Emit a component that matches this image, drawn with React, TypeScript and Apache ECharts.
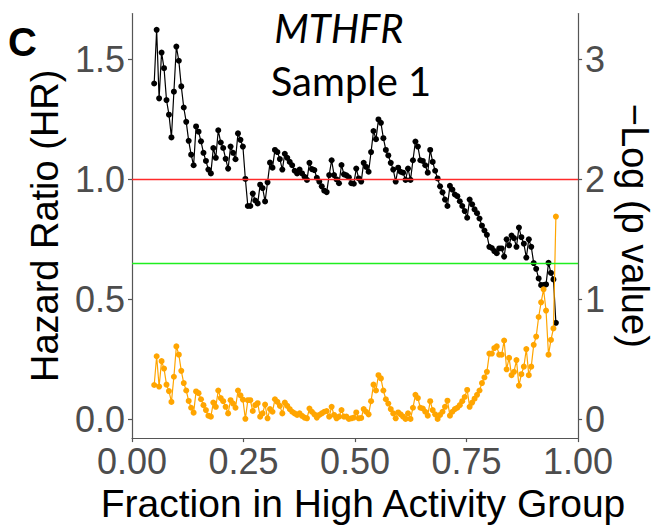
import React, { useEffect, useRef } from "react";
import * as echarts from "echarts";

// Cohort size and the smallest number of samples placed in the high-activity group.
const SAMPLE_COUNT = 181;
const FIRST_HIGH_COUNT = 9;

// Hazard ratio for each successive split (high-activity group size 9 .. 172).
const hazardRatio = [
  1.400, 1.624, 1.338, 1.529, 1.464, 1.331, 1.270, 1.175, 1.366, 1.554,
  1.495, 1.388, 1.300, 1.240, 1.161, 1.103, 1.059, 1.221, 1.199, 1.159,
  1.111, 1.077, 1.041, 1.025, 1.131, 1.090, 1.205, 1.154, 1.131, 1.086,
  1.045, 1.137, 1.111, 1.084, 1.192, 1.165, 1.137, 1.002, 0.889, 0.889,
  0.941, 0.912, 0.900, 0.978, 0.964, 0.908, 0.988, 1.070, 1.049, 1.123,
  1.114, 1.085, 1.041, 1.107, 1.090, 1.073, 1.059, 1.036, 1.025, 1.041,
  1.025, 1.011, 0.998, 1.069, 1.043, 1.039, 1.007, 0.991, 0.971, 0.953,
  0.947, 1.018, 1.080, 1.018, 1.000, 0.984, 1.060, 1.021, 1.017, 1.009,
  0.984, 0.982, 1.045, 1.004,
  0.991, 1.069, 1.052, 1.032, 1.114, 1.202, 1.168, 1.250, 1.236, 1.172,
  1.123, 1.100, 1.069, 1.041, 0.991, 1.049, 1.032, 1.028, 0.998, 1.045,
  0.998, 1.080, 1.158, 1.137, 1.080, 1.077, 1.059, 1.028, 1.123, 1.073,
  1.036, 1.004, 0.971, 0.946, 0.916, 0.889, 0.973, 0.957, 0.937, 0.930,
  0.909, 0.889, 0.868, 0.840,
  0.916, 0.896, 0.875, 0.859, 0.837, 0.807, 0.787, 0.769, 0.719, 0.714,
  0.701, 0.692, 0.712, 0.712, 0.678, 0.750, 0.725, 0.766, 0.755, 0.719,
  0.799, 0.759, 0.732, 0.674, 0.750, 0.719, 0.651, 0.627, 0.587, 0.559,
  0.559, 0.562, 0.652, 0.610, 0.583, 0.402,
];

// -log10(p) of the log-rank test for the same splits.
const negLogP = [
  0.285, 0.525, 0.272, 0.484, 0.422, 0.288, 0.234, 0.144, 0.354, 0.607,
  0.538, 0.403, 0.301, 0.239, 0.152, 0.095, 0.054, 0.231, 0.217, 0.166,
  0.117, 0.076, 0.029, 0.021, 0.138, 0.103, 0.239, 0.176, 0.150, 0.103,
  0.048, 0.158, 0.130, 0.095, 0.239, 0.199, 0.163, 0.003, 0.158, 0.158,
  0.068, 0.117, 0.133, 0.021, 0.048, 0.122, 0.007, 0.084, 0.062, 0.166,
  0.144, 0.111,
  0.048, 0.138, 0.111, 0.084, 0.062, 0.048, 0.035, 0.048, 0.027, 0.013,
  0.007, 0.089, 0.062, 0.040, 0.013, 0.035, 0.048, 0.062, 0.068, 0.021,
  0.103, 0.035, 0.007, 0.021, 0.076, 0.021, 0.021, 0.002, 0.007, 0.013,
  0.056, 0.007, 0.010, 0.084, 0.062, 0.040, 0.150, 0.288, 0.239, 0.367,
  0.340, 0.239, 0.166, 0.130, 0.084, 0.048, 0.007, 0.056, 0.040, 0.021,
  0.002, 0.048, 0.002, 0.095, 0.203, 0.176, 0.095, 0.089, 0.062,
  0.029, 0.150, 0.076, 0.040, 0.002, 0.035, 0.062, 0.103, 0.154, 0.029,
  0.062, 0.084, 0.095, 0.117, 0.150, 0.185, 0.244,
  0.103, 0.138, 0.171, 0.203, 0.239, 0.301, 0.348, 0.395, 0.547, 0.547,
  0.593, 0.607, 0.538, 0.538, 0.656, 0.416, 0.511, 0.367, 0.395, 0.493,
  0.280, 0.375, 0.438, 0.585, 0.367, 0.438, 0.620, 0.689, 0.852, 0.975,
  1.083, 0.906, 0.538, 0.661, 0.757, 1.690,
];

const xTicks = [0, 0.25, 0.5, 0.75, 1];
const hrTicks = [0, 0.5, 1, 1.5];
const pTicks = [0, 1, 2, 3];

const HR_NULL = 1;
const P_THRESHOLD = 0.05;

const GENE = "MTHFR";
const SAMPLE_LABEL = "Sample 1";
const PANEL = "C";

const SANS = "'Liberation Sans', Arial, sans-serif";
const TITLE_FONT = "Lato, 'Open Sans', sans-serif";
const AXIS_GREY = "#555555";
const LABEL_GREY = "#4D4D4D";

const fractionOf = (k: number) => (FIRST_HIGH_COUNT + k) / SAMPLE_COUNT;

export default function App() {
  const ref = useRef<HTMLDivElement>(null);

  useEffect(() => {
    document.body.style.margin = "0";
    if (!ref.current) return;
    const chart = echarts.init(ref.current, undefined, { renderer: "svg" });

    const hrData = hazardRatio.map((v, k) => [fractionOf(k), v]);
    const pData = negLogP.map((v, k) => [fractionOf(k), v]);

    const axisLine = { show: true, onZero: false, lineStyle: { color: AXIS_GREY, width: 1.2 } };
    const tickStyle = { color: AXIS_GREY, width: 1.2 };
    const tickLabel = { fontSize: 36, color: LABEL_GREY, fontFamily: SANS };
    const titleStyle = { fontSize: 38, color: "#000", fontFamily: SANS };

    const refLine = (color: string, yAxisIndex: number, value: number) => ({
      type: "line",
      yAxisIndex,
      data: [],
      z: 1,
      silent: true,
      markLine: {
        silent: true,
        symbol: ["none", "none"],
        label: { show: false },
        lineStyle: { color, width: 1.3, type: "solid" },
        emphasis: { disabled: true },
        data: [{ yAxis: value }],
      },
    });

    chart.setOption({
      animation: false,
      grid: { left: 132, right: 64, top: 13.5, bottom: 81, containLabel: false },
      xAxis: {
        type: "value",
        min: 0,
        max: 1,
        interval: 0.25,
        axisLine,
        axisTick: { show: true, length: 4, lineStyle: tickStyle, customValues: xTicks },
        splitLine: { show: false },
        axisLabel: {
          ...tickLabel,
          margin: 5,
          customValues: xTicks,
          showMinLabel: true,
          showMaxLabel: true,
          hideOverlap: false,
          formatter: (v: number) => v.toFixed(2),
        },
        name: "Fraction in High Activity Group",
        nameLocation: "middle",
        nameGap: 37,
        nameTextStyle: { ...titleStyle, fontSize: 39, padding: [0, 0, 0, 16] },
      },
      yAxis: [
        {
          type: "value",
          position: "left",
          min: -0.079,
          max: 1.692,
          axisLine,
          axisTick: { show: true, length: 4, lineStyle: tickStyle, customValues: hrTicks },
          splitLine: { show: false },
          axisLabel: {
            ...tickLabel,
            margin: 7,
            customValues: hrTicks,
            formatter: (v: number) => v.toFixed(1),
          },
          name: "Hazard Ratio (HR)",
          nameLocation: "middle",
          nameGap: 64,
          nameTextStyle: titleStyle,
        },
        {
          type: "value",
          position: "right",
          min: -0.158,
          max: 3.384,
          axisLine,
          axisTick: { show: true, length: 4, lineStyle: tickStyle, customValues: pTicks },
          splitLine: { show: false },
          axisLabel: {
            ...tickLabel,
            margin: 7,
            customValues: pTicks,
            formatter: (v: number) => String(v),
          },
          name: "\u2212Log (p value)",
          nameLocation: "middle",
          nameRotate: -90,
          nameGap: 23,
          nameTextStyle: titleStyle,
        },
      ],
      series: [
        refLine("#FF2A2A", 0, HR_NULL),
        refLine("#1FEE1F", 1, -Math.log10(P_THRESHOLD)),
        {
          type: "line",
          name: "HR",
          yAxisIndex: 0,
          data: hrData,
          z: 3,
          symbol: "circle",
          symbolSize: 6,
          showSymbol: true,
          lineStyle: { color: "#000000", width: 1.2 },
          itemStyle: { color: "#000000" },
        },
        {
          type: "line",
          name: "p",
          yAxisIndex: 1,
          data: pData,
          z: 4,
          symbol: "circle",
          symbolSize: 6,
          showSymbol: true,
          lineStyle: { color: "#FFA500", width: 1.2 },
          itemStyle: { color: "#FFA500" },
        },
      ],
      graphic: [
        {
          type: "text",
          x: 8,
          y: 41.5,
          style: {
            text: PANEL,
            fontSize: 40,
            fontWeight: "bold",
            fontFamily: SANS,
            fill: "#000",
            align: "left",
            verticalAlign: "middle",
          },
        },
        {
          type: "text",
          x: 339,
          y: 27.5,
          style: {
            text: GENE,
            fontSize: 40,
            fontStyle: "italic",
            fontFamily: TITLE_FONT,
            fill: "#000",
            align: "center",
            verticalAlign: "middle",
          },
        },
        {
          type: "text",
          x: 351,
          y: 81,
          style: {
            text: SAMPLE_LABEL,
            fontSize: 40,
            fontFamily: TITLE_FONT,
            fill: "#000",
            align: "center",
            verticalAlign: "middle",
          },
        },
      ],
    });

    return () => chart.dispose();
  }, []);

  return <div ref={ref} style={{ width: 662, height: 528 }} />;
}
